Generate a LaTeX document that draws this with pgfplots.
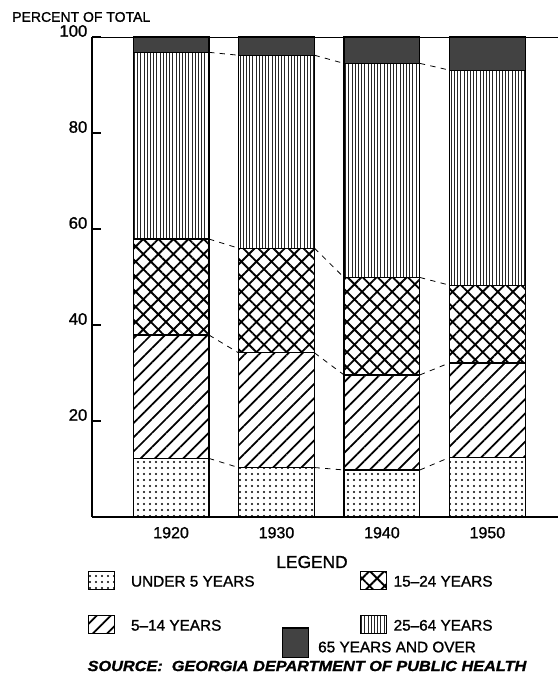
\documentclass[border=0pt]{standalone}
\usepackage{fontspec}
\setmainfont{Liberation Sans}[FakeBold=1.2]
\usepackage{graphicx}
\usepackage{pgfplots}
\pgfplotsset{compat=1.18}
\usetikzlibrary{patterns.meta}
\pgfplotsset{
  legbox/.style={legend image code/.code={\draw[##1,line width=0.8pt] (0pt,-5.5pt) rectangle (19.5pt,8pt);}},
  bigbox/.style={legend image code/.code={\draw[##1,line width=0.8pt] (0pt,-6.8pt) rectangle (19.5pt,15pt);}},
}
\tikzset{
  p1/.style={draw=black,line width=0.9pt,pattern={Dots[distance=4.5pt,radius=0.85pt]},pattern color=black},
  p2/.style={draw=black,line width=0.9pt,pattern={Lines[angle=45,distance=7.5pt,line width=1.3pt]},pattern color=black},
  p3/.style={draw=black,line width=0.9pt,pattern={Hatch[angle=45,distance=8pt,line width=1.4pt]},pattern color=black},
  p4/.style={draw=black,line width=0.9pt,pattern={Lines[angle=90,distance=2.4pt,line width=0.65pt]},pattern color=black!85},
  p5/.style={draw=black,line width=0.9pt,fill=black!74},
}
\begin{document}
\begin{tikzpicture}
\pgfresetboundingbox
\path[use as bounding box] (0pt,0pt) rectangle (419.25pt,513pt);
\begin{axis}[
  at={(69pt,125.25pt)}, anchor=south west,
  scale only axis, width=349.5pt, height=360pt,
  ybar stacked, bar width=0.72,
  xmin=-0.75, xmax=3.67, ymin=0, ymax=100,
  xtick={0,1,2,3}, xticklabels={1920,1930,1940,1950},
  ytick={20,40,60,80,100},
  axis lines*=left,
  axis line style={line width=1.2pt},
  x tick style={draw=none},
  y tick style={line width=0.9pt,black},
  tick align=inside, major tick length=6.5pt,
  /pgf/number format/assume math mode=true,
  xticklabel style={font=\fontsize{12}{14}\selectfont, yshift=-4pt},
  yticklabel style={font=\fontsize{12.5}{14}\selectfont, yshift=4.5pt},
  legend columns=2, transpose legend,
  legend cell align=left,
  legend style={at={(axis description cs:-0.0086,-0.1125)}, anchor=north west,
    draw=none, fill=none, inner sep=0pt, outer sep=0pt,
    font=\fontsize{11.5}{13}\selectfont,
    nodes={inner sep=0pt},
    row sep=18.75pt,
    /tikz/column 1/.style={column sep=12pt},
    /tikz/column 2/.style={column sep=78.75pt},
    /tikz/column 3/.style={column sep=5.25pt}},
]
\addplot[p1,legbox] coordinates {(0,12.2) (1,10.3) (2,9.8) (3,12.4)};
\addlegendentry{UNDER 5 YEARS}
\addplot[p2,legbox] coordinates {(0,25.7) (1,23.9) (2,19.8) (3,19.7)};
\addlegendentry{5--14 YEARS}
\addplot[p3,legbox] coordinates {(0,20.0) (1,21.8) (2,20.3) (3,16.2)};
\addlegendentry{15--24 YEARS}
\addplot[p4,legbox] coordinates {(0,38.9) (1,40.2) (2,44.6) (3,44.8)};
\addlegendentry{25--64 YEARS}
\addplot[p5] coordinates {(0,3.2) (1,3.8) (2,5.5) (3,6.9)};
\draw[line width=0.7pt] (rel axis cs:0,1) -- (rel axis cs:1,1);
\end{axis}
\begin{axis}[
  at={(69pt,125.25pt)}, anchor=south west,
  scale only axis, width=349.5pt, height=360pt,
  xmin=-0.75, xmax=3.67, ymin=0, ymax=100,
  hide axis, unbounded coords=jump,
  legend cell align=left,
  legend style={at={(axis description cs:0.408,-0.2615)}, anchor=west,
    draw=none, fill=none, inner sep=0pt, outer sep=0pt,
    font=\fontsize{11.5}{13}\selectfont,
    nodes={inner sep=0pt},
    /tikz/column 1/.style={column sep=6.75pt}},
]
\addplot[forget plot, black, line width=0.6pt, dash pattern=on 4pt off 4pt] coordinates {(0.36,12.2) (0.64,10.3) (1,nan) (1.36,10.3) (1.64,9.8) (2,nan) (2.36,9.8) (2.64,12.4)};
\addplot[forget plot, black, line width=0.6pt, dash pattern=on 4pt off 4pt] coordinates {(0.36,37.9) (0.64,34.2) (1,nan) (1.36,34.2) (1.64,29.6) (2,nan) (2.36,29.6) (2.64,32.1)};
\addplot[forget plot, black, line width=0.6pt, dash pattern=on 4pt off 4pt] coordinates {(0.36,57.9) (0.64,56.0) (1,nan) (1.36,56.0) (1.64,49.9) (2,nan) (2.36,49.9) (2.64,48.3)};
\addplot[forget plot, black, line width=0.6pt, dash pattern=on 4pt off 4pt] coordinates {(0.36,96.8) (0.64,96.2) (1,nan) (1.36,96.2) (1.64,94.5) (2,nan) (2.36,94.5) (2.64,93.1)};
\addlegendimage{p5, bigbox}
\addlegendentry{65 YEARS AND OVER}
\end{axis}
\node[anchor=west, inner sep=0pt, font=\fontsize{10.5}{12}\selectfont] at (9pt,500.25pt) {PERCENT OF TOTAL};
\node[inner sep=0pt, font=\fontsize{13}{15}\selectfont] at (234pt,91.5pt) {LEGEND};
\node[inner sep=0pt, font=\fontsize{11}{13}\selectfont\itshape\bfseries] at (230.25pt,13.5pt) {\scalebox{1.11}[1]{SOURCE:\ \ GEORGIA DEPARTMENT OF PUBLIC HEALTH}};
\end{tikzpicture}
\end{document}
